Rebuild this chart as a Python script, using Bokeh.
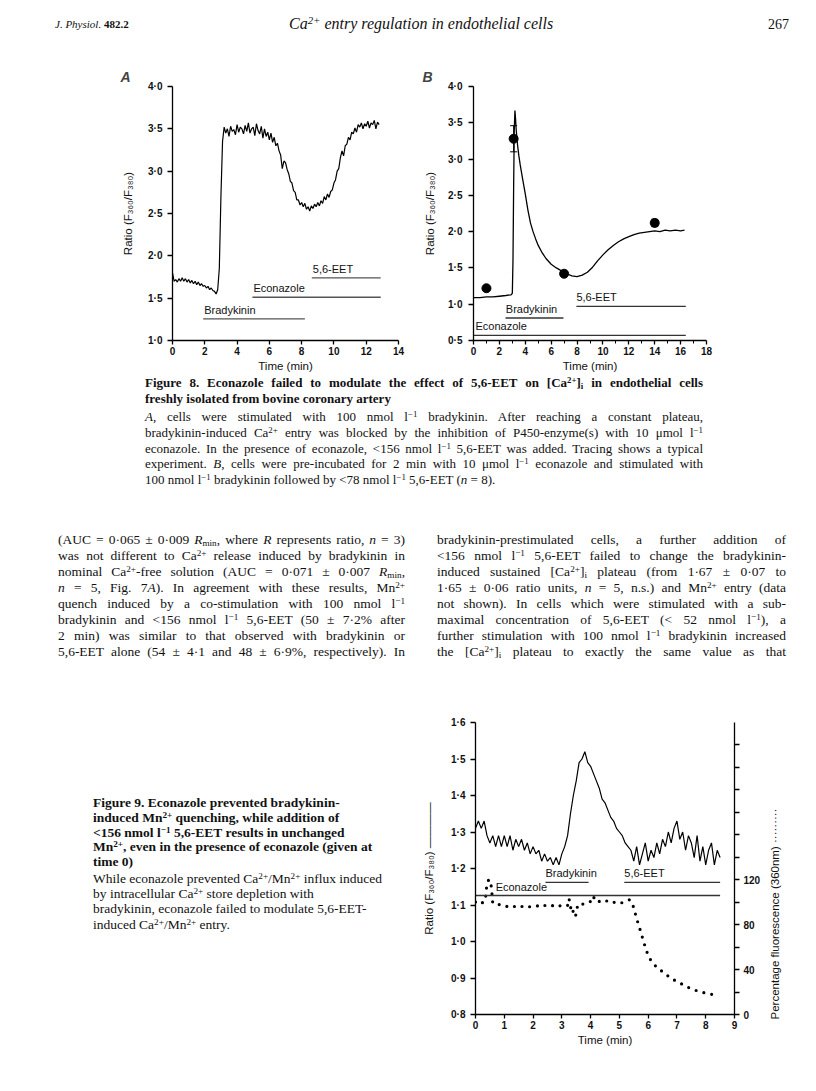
import math
from bokeh.plotting import figure
from bokeh.models import (Div, LinearAxis, Range1d, FixedTicker, Whisker,
                          ColumnDataSource, CustomJSTickFormatter, TeeHead)
from bokeh.layouts import column, row
from bokeh.embed import file_html
from bokeh.resources import INLINE
from bokeh.core.properties import value

SANS = "Liberation Sans"
SERIF = "Liberation Serif"

# ---------------- data: Figure 8A ----------------
A_T = [0.0, 0.1, 0.2, 0.3, 0.4, 0.5, 0.6, 0.7, 0.8, 0.9,
       1.0, 1.1, 1.2, 1.3, 1.4, 1.5, 1.6, 1.7, 1.8, 1.9,
       2.0, 2.1, 2.2, 2.3, 2.4, 2.5, 2.6, 2.7, 2.8, 2.9,
       3.0, 3.1, 3.2, 3.3, 3.4, 3.5, 3.6, 3.7, 3.8, 3.9,
       4.0, 4.1, 4.2, 4.3, 4.4, 4.5, 4.6, 4.7, 4.8, 4.9,
       5.0, 5.1, 5.2, 5.3, 5.4, 5.5, 5.6, 5.7, 5.8, 5.9,
       6.0, 6.1, 6.2, 6.3, 6.4, 6.5, 6.6, 6.7, 6.8, 6.9,
       7.0, 7.1, 7.2, 7.3, 7.4, 7.5, 7.6, 7.7, 7.8, 7.9,
       8.0, 8.1, 8.2, 8.3, 8.4, 8.5, 8.6, 8.7, 8.8, 8.9,
       9.0, 9.1, 9.2, 9.3, 9.4, 9.5, 9.6, 9.7, 9.8, 9.9,
       10.0, 10.1, 10.2, 10.3, 10.4, 10.5, 10.6, 10.7, 10.8, 10.9,
       11.0, 11.1, 11.2, 11.3, 11.4, 11.5, 11.6, 11.7, 11.8, 11.9,
       12.0, 12.1, 12.2, 12.3, 12.4, 12.5, 12.6, 12.7, 12.8]
A_RATIO = [1.80, 1.70, 1.72, 1.69, 1.73, 1.70, 1.74, 1.70, 1.73, 1.69,
           1.72, 1.68, 1.71, 1.67, 1.70, 1.66, 1.69, 1.65, 1.67, 1.64,
           1.65, 1.62, 1.64, 1.60, 1.62, 1.59, 1.58, 1.55, 1.60, 1.85,
           2.70, 3.35, 3.52, 3.45, 3.50, 3.41, 3.53, 3.47, 3.49, 3.43,
           3.55, 3.46, 3.52, 3.50, 3.44, 3.54, 3.47, 3.57, 3.45, 3.50,
           3.52, 3.42, 3.56, 3.48, 3.44, 3.53, 3.39, 3.50, 3.41, 3.46,
           3.37, 3.45, 3.34, 3.40, 3.30, 3.33, 3.24, 3.19, 3.03, 3.12,
           3.10, 3.02, 2.97, 2.88, 2.86, 2.77, 2.75, 2.66, 2.66, 2.60,
           2.63, 2.58, 2.62, 2.55, 2.58, 2.53, 2.59, 2.56, 2.61, 2.58,
           2.63, 2.59, 2.65, 2.62, 2.70, 2.66, 2.73, 2.69, 2.76, 2.78,
           2.86, 2.90, 3.00, 3.03, 3.16, 3.24, 3.18, 3.30, 3.32, 3.40,
           3.37, 3.46, 3.44, 3.51, 3.46, 3.55, 3.52, 3.57, 3.50, 3.56,
           3.53, 3.59, 3.51, 3.57, 3.55, 3.60, 3.50, 3.58, 3.55]
A_XTICKS = [0, 2, 4, 6, 8, 10, 12, 14]
A_YTICKS = [1.0, 1.5, 2.0, 2.5, 3.0, 3.5, 4.0]
A_DRUGS = ["Bradykinin", "Econazole", "5,6-EET"]
A_DRUG_START = [1.9, 4.95, 8.63]
A_DRUG_END = [8.2, 12.9, 12.9]
A_DRUG_LEVEL = [1.256, 1.51, 1.74]

# ---------------- data: Figure 8B ----------------
B_T = [0.0, 0.5, 1.0, 1.5, 2.0, 2.5, 2.9, 3.0, 3.05, 3.1,
       3.15, 3.2, 3.25, 3.3, 3.4, 3.5, 3.6, 3.8, 4.0, 4.2,
       4.4, 4.6, 4.8, 5.0, 5.3, 5.6, 6.0, 6.4, 6.8, 7.2,
       7.6, 8.0, 8.4, 8.8, 9.2, 9.6, 10.0, 10.4, 10.8, 11.2,
       11.6, 12.0, 12.4, 12.8, 13.2, 13.6, 14.0, 14.4, 14.8, 15.2,
       15.6, 16.0, 16.3]
B_RATIO = [1.09, 1.09, 1.10, 1.10, 1.11, 1.12, 1.13, 1.15, 1.60, 2.60,
           3.40, 3.67, 3.55, 3.40, 3.20, 3.05, 2.93, 2.72, 2.52, 2.30,
           2.12, 2.00, 1.90, 1.81, 1.71, 1.63, 1.55, 1.50, 1.46, 1.42,
           1.39, 1.38, 1.40, 1.44, 1.51, 1.60, 1.68, 1.75, 1.81, 1.86,
           1.90, 1.93, 1.96, 1.98, 1.99, 2.00, 2.01, 2.00, 2.02, 2.01,
           2.02, 2.01, 2.02]
B_PT_T = [1.0, 3.1, 7.0, 14.0]
B_PT_MEAN = [1.22, 3.28, 1.42, 2.12]
B_PT_SEM = [0.02, 0.18, 0.02, 0.05]
B_XTICKS = [0, 2, 4, 6, 8, 10, 12, 14, 16, 18]
B_XMINOR = [1, 3, 5, 7, 9, 11, 13, 15, 17]
B_YTICKS = [0.5, 1.0, 1.5, 2.0, 2.5, 3.0, 3.5, 4.0]
B_DRUGS = ["Bradykinin", "Econazole", "5,6-EET"]
B_DRUG_START = [2.47, 0.0, 7.95]
B_DRUG_END = [6.95, 16.4, 16.4]
B_DRUG_LEVEL = [0.81, 0.57, 0.97]
B_LABEL_X = [2.5, 0.15, 7.95]

# ---------------- data: Figure 9 ----------------
C_T = [0.0, 0.1, 0.2, 0.3, 0.4, 0.5, 0.6, 0.7, 0.8, 0.9,
       1.0, 1.1, 1.2, 1.3, 1.4, 1.5, 1.6, 1.7, 1.8, 1.9,
       2.0, 2.1, 2.2, 2.3, 2.4, 2.5, 2.6, 2.7, 2.8, 2.9,
       3.0, 3.1, 3.2, 3.3, 3.4, 3.5, 3.6, 3.7, 3.8, 3.9,
       4.0, 4.1, 4.2, 4.3, 4.4, 4.5, 4.6, 4.7, 4.8, 4.9,
       5.0, 5.1, 5.2, 5.3, 5.4, 5.5, 5.6, 5.7, 5.8, 5.9,
       6.0, 6.1, 6.2, 6.3, 6.4, 6.5, 6.6, 6.7, 6.8, 6.9,
       7.0, 7.1, 7.2, 7.3, 7.4, 7.5, 7.6, 7.7, 7.8, 7.9,
       8.0, 8.1, 8.2, 8.3, 8.4, 8.5]
C_RATIO = [1.31, 1.33, 1.31, 1.33, 1.29, 1.27, 1.29, 1.26, 1.29, 1.26,
           1.29, 1.26, 1.29, 1.25, 1.28, 1.26, 1.28, 1.25, 1.27, 1.24,
           1.26, 1.24, 1.25, 1.22, 1.24, 1.22, 1.23, 1.21, 1.23, 1.21,
           1.24, 1.26, 1.29, 1.35, 1.40, 1.44, 1.49, 1.50, 1.52, 1.49,
           1.48, 1.46, 1.44, 1.42, 1.39, 1.38, 1.36, 1.34, 1.33, 1.31,
           1.30, 1.29, 1.27, 1.26, 1.25, 1.22, 1.26, 1.21, 1.24, 1.27,
           1.22, 1.25, 1.23, 1.27, 1.24, 1.28, 1.26, 1.30, 1.27, 1.31,
           1.33, 1.28, 1.30, 1.25, 1.29, 1.27, 1.23, 1.29, 1.22, 1.26,
           1.21, 1.25, 1.27, 1.21, 1.25, 1.23]
C_DOT_T = [0.0, 0.1, 0.2, 0.3,
           0.35, 0.38, 0.42, 0.47, 0.52, 0.56, 0.58, 0.6,
           0.7, 0.8, 0.9, 1.0, 1.1, 1.2, 1.3, 1.4, 1.5, 1.6,
           1.7, 1.8, 1.9, 2.0, 2.1, 2.2, 2.3, 2.4, 2.5, 2.6,
           2.7, 2.8, 2.9, 3.0, 3.1, 3.2,
           3.25, 3.3, 3.35, 3.42, 3.48, 3.55, 3.65, 3.75, 3.85, 3.95,
           4.05, 4.1, 4.15,
           4.25, 4.35, 4.45, 4.55, 4.65, 4.75, 4.85, 4.95, 5.05, 5.15, 5.25, 5.35,
           5.45, 5.55, 5.65, 5.75, 5.85, 5.95, 6.05, 6.15,
           6.3, 6.5, 6.8, 7.1, 7.4, 7.7, 8.0, 8.2, 8.45]
C_DOT_PCT = [100, 98, 99, 100,
             104, 112, 118, 120, 118, 112, 104, 99,
             98, 98, 97, 97, 96, 97, 96, 96, 95, 96,
             96, 95, 96, 96, 96, 97, 96, 97, 96, 96,
             97, 96, 97, 96, 96, 97,
             103, 96, 90, 93, 88, 97, 99, 98, 99, 100,
             101, 105, 101,
             100, 101, 100, 101, 100, 99, 100, 100, 99, 100, 101, 102,
             99, 90, 81, 73, 64, 56, 50, 46,
             42, 38, 32, 28, 24, 21, 19, 18, 16]
C_XTICKS = [0, 1, 2, 3, 4, 5, 6, 7, 8, 9]
C_YTICKS = [0.8, 0.9, 1.0, 1.1, 1.2, 1.3, 1.4, 1.5, 1.6]
C_PCT_TICKS = [0, 20, 40, 60, 80, 100, 120, 140, 160, 180, 200, 220, 240]
C_PCT_LABELED = [0, 40, 80, 120]
C_DRUGS = ["Bradykinin", "5,6-EET", "Econazole"]
C_DRUG_START = [2.43, 5.17, 0.0]
C_DRUG_END = [3.93, 8.5, 8.5]
C_DRUG_LEVEL = [1.162, 1.162, 1.126]
C_LABEL_X = [2.43, 5.17, 0.7]

# ---------------- page text ----------------
HEADER_LEFT = "<i>J. Physiol.</i> <b>482.2</b>"
HEADER_TITLE = "Ca<sup>2+</sup> entry regulation in endothelial cells"
HEADER_PAGE = "267"

CAP8_TITLE = [
    "Figure 8. Econazole failed to modulate the effect of 5,6-EET on [Ca<sup>2+</sup>]<sub>i</sub> in endothelial cells",
    "freshly isolated from bovine coronary artery",
]
CAP8_BODY = [
    "<i>A</i>, cells were stimulated with 100 nmol l<sup>\u22121</sup> bradykinin. After reaching a constant plateau,",
    "bradykinin-induced Ca<sup>2+</sup> entry was blocked by the inhibition of P450-enzyme(s) with 10 \u03bcmol l<sup>\u22121</sup>",
    "econazole. In the presence of econazole, &lt;156 nmol l<sup>\u22121</sup> 5,6-EET was added. Tracing shows a typical",
    "experiment. <i>B</i>, cells were pre-incubated for 2 min with 10 \u03bcmol l<sup>\u22121</sup> econazole and stimulated with",
    "100 nmol l<sup>\u22121</sup> bradykinin followed by &lt;78 nmol l<sup>\u22121</sup> 5,6-EET (<i>n</i> = 8).",
]
BODY_LEFT = [
    "(AUC = 0\u00b7065 \u00b1 0\u00b7009 <i>R</i><sub>min</sub>, where <i>R</i> represents ratio, <i>n</i> = 3)",
    "was not different to Ca<sup>2+</sup> release induced by bradykinin in",
    "nominal Ca<sup>2+</sup>-free solution (AUC = 0\u00b7071 \u00b1 0\u00b7007 <i>R</i><sub>min</sub>,",
    "<i>n</i> = 5, Fig. 7<i>A</i>). In agreement with these results, Mn<sup>2+</sup>",
    "quench induced by a co-stimulation with 100 nmol l<sup>\u22121</sup>",
    "bradykinin and &lt;156 nmol l<sup>\u22121</sup> 5,6-EET (50 \u00b1 7\u00b72% after",
    "2 min) was similar to that observed with bradykinin or",
    "5,6-EET alone (54 \u00b1 4\u00b71 and 48 \u00b1 6\u00b79%, respectively). In",
]
BODY_RIGHT = [
    "bradykinin-prestimulated cells, a further addition of",
    "&lt;156 nmol l<sup>\u22121</sup> 5,6-EET failed to change the bradykinin-",
    "induced sustained [Ca<sup>2+</sup>]<sub>i</sub> plateau (from 1\u00b767 \u00b1 0\u00b707 to",
    "1\u00b765 \u00b1 0\u00b706 ratio units, <i>n</i> = 5, n.s.) and Mn<sup>2+</sup> entry (data",
    "not shown). In cells which were stimulated with a sub-",
    "maximal concentration of 5,6-EET (&lt; 52 nmol l<sup>\u22121</sup>), a",
    "further stimulation with 100 nmol l<sup>\u22121</sup> bradykinin increased",
    "the [Ca<sup>2+</sup>]<sub>i</sub> plateau to exactly the same value as that",
]
CAP9_TITLE = [
    "Figure 9. Econazole prevented bradykinin-",
    "induced Mn<sup>2+</sup> quenching, while addition of",
    "&lt;156 nmol l<sup>\u22121</sup> 5,6-EET results in unchanged",
    "Mn<sup>2+</sup>, even in the presence of econazole (given at",
    "time 0)",
]
CAP9_BODY = [
    "While econazole prevented Ca<sup>2+</sup>/Mn<sup>2+</sup> influx induced",
    "by intracellular Ca<sup>2+</sup> store depletion with",
    "bradykinin, econazole failed to modulate 5,6-EET-",
    "induced Ca<sup>2+</sup>/Mn<sup>2+</sup> entry.",
]
C_RIGHT_LABEL = "Percentage fluorescence (360nm) \u00b7\u00b7\u00b7\u00b7\u00b7\u00b7\u00b7\u00b7\u00b7"

STYLE = ("<style>sup{font-size:68%;vertical-align:0.45em;line-height:0;}"
         "sub{font-size:68%;vertical-align:-0.2em;line-height:0;}</style>")


def text_block(width, height, items):
    parts = [STYLE, f'<div style="position:relative;width:{width}px;height:{height}px;'
                    f'font-family:\'{SERIF}\',serif;color:#111;">']
    for html, left, top, w, size, bold, just in items:
        st = f"position:absolute;left:{left}px;top:{top}px;font-size:{size}px;line-height:16px;"
        if bold:
            st += "font-weight:bold;"
        if just:
            st += f"width:{w}px;text-align:justify;text-align-last:justify;"
        else:
            st += "white-space:nowrap;"
        parts.append(f'<div style="{st}">{html}</div>')
    parts.append("</div>")
    return Div(text="".join(parts), width=width, height=height, margin=0)


def dotfmt():
    return CustomJSTickFormatter(code="return tick.toFixed(1).replace('.', '\u00b7');")


def style_axis(ax, label_size="10px"):
    ax.axis_line_width = 1.3
    ax.axis_line_color = "black"
    ax.major_tick_line_width = 1.3
    ax.major_tick_line_color = "black"
    ax.major_tick_out = 5
    ax.major_tick_in = 0
    ax.minor_tick_line_color = None
    ax.major_label_text_font = SANS
    ax.major_label_text_font_size = label_size
    ax.major_label_text_font_style = "bold"
    ax.major_label_text_color = "#111"
    ax.axis_label_text_font = SANS
    ax.axis_label_text_font_size = "11.5px"
    ax.axis_label_text_font_style = "normal"
    ax.axis_label_text_color = "#111"


def base_fig(w, h, xr, yr, l, r, t, b):
    p = figure(width=w, height=h, x_range=Range1d(*xr), y_range=Range1d(*yr),
               output_backend="svg", toolbar_location=None,
               min_border_left=l, min_border_right=r, min_border_top=t, min_border_bottom=b)
    p.outline_line_color = None
    p.xgrid.visible = False
    p.ygrid.visible = False
    return p


def panel_title(p, letter, offset):
    p.title.text = letter
    p.title.text_font = SANS
    p.title.text_font_style = "bold italic"
    p.title.text_font_size = "14px"
    p.title.align = "left"
    p.title.offset = offset
    p.title.standoff = 3


# ---------------- Figure 8A ----------------
pA = base_fig(404, 322, (0, 14), (1.0, 4.0), 164, 14, 33, 35)
pA.line(A_T, A_RATIO, line_color="black", line_width=1.2)
pA.segment(x0=A_DRUG_START, y0=A_DRUG_LEVEL, x1=A_DRUG_END, y1=A_DRUG_LEVEL,
           line_color="#555", line_width=1.4)
pA.text(x=A_DRUG_START, y=A_DRUG_LEVEL, text=A_DRUGS, text_font=value(SANS),
        text_font_size="11px", text_baseline="bottom", y_offset=-3, x_offset=1, text_color="#111")
pA.xaxis.ticker = FixedTicker(ticks=A_XTICKS)
pA.yaxis.ticker = FixedTicker(ticks=A_YTICKS)
pA.yaxis.formatter = dotfmt()
pA.xaxis.axis_label = "Time (min)"
pA.yaxis.axis_label = "Ratio (F\u2083\u2086\u2080/F\u2083\u2088\u2080)"
style_axis(pA.xaxis[0])
style_axis(pA.yaxis[0])
pA.xaxis.major_tick_out = 4
pA.xaxis.major_label_standoff = 2
pA.xaxis.axis_label_standoff = 2
pA.yaxis.major_label_standoff = 5
pA.yaxis.axis_label_standoff = 11
panel_title(pA, "A", -52)

# ---------------- Figure 8B ----------------
pB = base_fig(340, 322, (0, 18), (0.5, 4.0), 61, 46, 33, 35)
pB.line(B_T, B_RATIO, line_color="black", line_width=1.3)
lo = [m - e for m, e in zip(B_PT_MEAN, B_PT_SEM)]
hi = [m + e for m, e in zip(B_PT_MEAN, B_PT_SEM)]
wsrc = ColumnDataSource(dict(t=B_PT_T, lo=lo, hi=hi))
pB.add_layout(Whisker(source=wsrc, base="t", lower="lo", upper="hi", line_color="black",
                      line_width=1, upper_head=TeeHead(size=7, line_width=1),
                      lower_head=TeeHead(size=7, line_width=1)))
pB.scatter(B_PT_T, B_PT_MEAN, size=9, color="black")
pB.segment(x0=B_DRUG_START, y0=B_DRUG_LEVEL, x1=B_DRUG_END, y1=B_DRUG_LEVEL,
           line_color="#333", line_width=1.4)
pB.text(x=B_LABEL_X, y=B_DRUG_LEVEL, text=B_DRUGS, text_font=value(SANS),
        text_font_size="11px", text_baseline="bottom", y_offset=-3, text_color="#111")
pB.xaxis.ticker = FixedTicker(ticks=B_XTICKS, minor_ticks=B_XMINOR)
pB.yaxis.ticker = FixedTicker(ticks=B_YTICKS)
pB.yaxis.formatter = dotfmt()
pB.xaxis.axis_label = "Time (min)"
pB.yaxis.axis_label = "Ratio (F\u2083\u2086\u2080/F\u2083\u2088\u2080)"
style_axis(pB.xaxis[0])
style_axis(pB.yaxis[0])
pB.xaxis.major_tick_out = 4
pB.xaxis.minor_tick_line_color = "black"
pB.xaxis.minor_tick_out = 3
pB.xaxis.minor_tick_in = 0
pB.xaxis.major_label_standoff = 2
pB.xaxis.axis_label_standoff = 2
pB.yaxis.major_label_standoff = 6
pB.yaxis.axis_label_standoff = 9
panel_title(pB, "B", -51)

# ---------------- Figure 9 ----------------
pC = base_fig(356, 394, (0, 9), (0.8, 1.6), 67, 30, 62, 40)
pC.extra_y_ranges = {"pct": Range1d(0, 259.6)}
pC.line(C_T, C_RATIO, line_color="black", line_width=1.2)
pC.line(C_DOT_T, C_DOT_PCT, y_range_name="pct", line_color="black", line_width=3.2,
        line_dash="0 8", line_cap="round")
pC.segment(x0=C_DRUG_START, y0=C_DRUG_LEVEL, x1=C_DRUG_END, y1=C_DRUG_LEVEL,
           line_color="#333", line_width=1.4)
pC.text(x=C_LABEL_X, y=C_DRUG_LEVEL, text=C_DRUGS, text_font=value(SANS),
        text_font_size="11px", text_baseline="bottom", y_offset=-3, text_color="#111")
pC.xaxis.ticker = FixedTicker(ticks=C_XTICKS)
pC.yaxis.ticker = FixedTicker(ticks=C_YTICKS)
pC.yaxis.formatter = dotfmt()
pC.xaxis.axis_label = "Time (min)"
pC.yaxis.axis_label = "Ratio (F\u2083\u2086\u2080/F\u2083\u2088\u2080) \u2014\u2014\u2014\u2014"
style_axis(pC.xaxis[0])
style_axis(pC.yaxis[0])
pC.xaxis.major_tick_out = 4
pC.xaxis.major_label_standoff = 2
pC.xaxis.axis_label_standoff = 2
pC.yaxis.major_label_standoff = 5
pC.yaxis.axis_label_standoff = 13
rax = LinearAxis(y_range_name="pct")
rax.ticker = FixedTicker(ticks=C_PCT_TICKS)
rax.major_label_overrides = {t: (str(t) if t in C_PCT_LABELED else "") for t in C_PCT_TICKS}
style_axis(rax)
rax.major_label_standoff = 4
pC.add_layout(rax, "right")

rlabel = Div(text=(
    f'<div style="position:relative;width:40px;height:394px;">'
    f'<div style="position:absolute;left:11px;top:254px;transform:translate(-50%,-50%) rotate(-90deg);'
    f'white-space:nowrap;font-family:\'{SANS}\',sans-serif;font-size:11.5px;color:#111;">{C_RIGHT_LABEL}</div>'
    '</div>'), width=40, height=394, margin=0)

# ---------------- page text blocks ----------------
header = Div(text=STYLE + (
    f'<div style="position:relative;width:800px;height:45px;font-family:\'{SERIF}\',serif;color:#111;">'
    f'<div style="position:absolute;left:47px;top:9px;font-size:11px;white-space:nowrap;">{HEADER_LEFT}</div>'
    f'<div style="position:absolute;left:281px;top:5px;font-size:16px;font-style:italic;white-space:nowrap;">{HEADER_TITLE}</div>'
    f'<div style="position:absolute;left:760px;top:7px;font-size:14px;white-space:nowrap;">{HEADER_PAGE}</div>'
    '</div>'), width=800, height=45, margin=0)

cap8_items = []
cap8_items.append((CAP8_TITLE[0], 137, 0, 558, 13, True, True))
cap8_items.append((CAP8_TITLE[1], 137, 16, 558, 13, True, False))
for i, ln in enumerate(CAP8_BODY):
    cap8_items.append((ln, 137, 34 + 15.8 * i, 558, 13, False, i < len(CAP8_BODY) - 1))
cap8 = text_block(800, 155, cap8_items)

body_items = []
for i, ln in enumerate(BODY_LEFT):
    body_items.append((ln, 50, 2 + 16 * i, 347, 13.5, False, True))
for i, ln in enumerate(BODY_RIGHT):
    body_items.append((ln, 429, 2 + 16 * i, 349, 13.5, False, True))
body = text_block(800, 130, body_items)

cap9_items = []
for i, ln in enumerate(CAP9_TITLE):
    cap9_items.append((ln, 85, 135 + 14.8 * i, 300, 13.5, True, False))
for i, ln in enumerate(CAP9_BODY):
    cap9_items.append((ln, 85, 211 + 15.2 * i, 300, 13.5, False, False))
cap9 = text_block(400, 394, cap9_items)

layout = column(header, row(pA, pB, spacing=0), cap8, body, row(cap9, pC, rlabel, spacing=0),
                spacing=0, margin=(8, 0, 0, 8))

open("out.html", "w").write(file_html(layout, INLINE))
